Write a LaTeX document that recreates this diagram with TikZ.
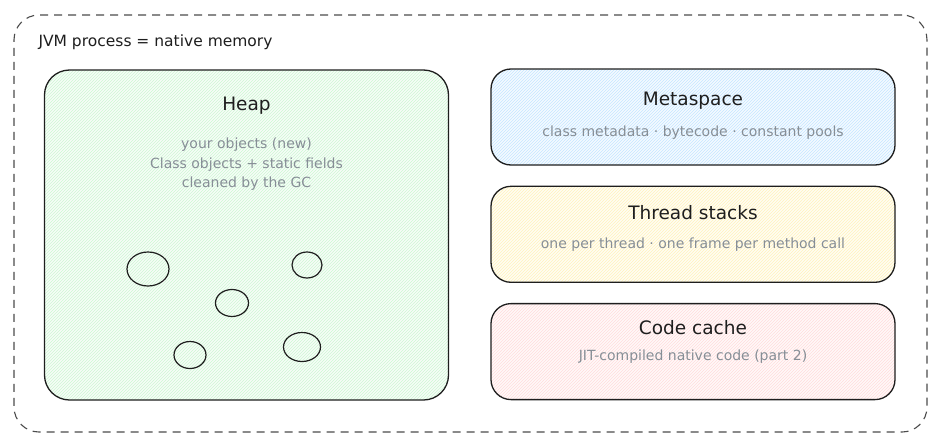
\documentclass[tikz,border=0pt]{standalone}
\usepackage{fontspec}
\setmainfont{DejaVu Sans}
\usetikzlibrary{positioning, patterns, shapes.geometric}
\definecolor{inkblack}{RGB}{30,30,30}
\definecolor{notegray}{RGB}{134,142,150}
\definecolor{heapgreen}{RGB}{178,242,187}
\definecolor{metablue}{RGB}{165,216,255}
\definecolor{stackyellow}{RGB}{255,236,153}
\definecolor{cachered}{RGB}{255,201,201}
\tikzset{
x=1pt, y=-1pt, % pixel-like coordinates, y grows downwards
node distance=20pt, % gap between the stacked regions
process/.style={draw=inkblack!80, line width=1.1pt, dash pattern=on 8pt off 6pt, rounded corners=25pt}, % the outer dashed frame
region/.style={draw=inkblack, line width=1.3pt, rounded corners=20pt, minimum width=404pt, minimum height=96pt}, % a memory area
hatched/.style={preaction={fill=#1!12}, pattern=north east lines, pattern color=#1!65}, % excalidraw-like hachure
boxtitle/.style={text=inkblack, font=\fontsize{18.5}{22}\selectfont}, % area name
boxnote/.style={text=notegray, font=\fontsize{14}{19.5}\selectfont, align=center}, % area description
obj/.style={ellipse, draw=inkblack, line width=1.2pt, inner sep=0pt}, % an object on the heap
}

\begin{document}
\begin{tikzpicture}
  \useasboundingbox (0,0) rectangle (940,447);
  \node[process, minimum width=913pt, minimum height=417pt] (jvm) at (470.5,223.5) {};
  \node[anchor=west, text=inkblack, font=\fontsize{15.5}{18}\selectfont] (jvmlabel) at (35,42) {JVM process = native memory};

  % heap on the left
  \node[region, hatched=heapgreen, rounded corners=25pt, minimum height=330pt] (heap) at (246.5,235) {};
  \node[boxtitle, below=24pt of heap.north] (heaptitle) {Heap};
  \node[boxnote, below=17pt of heaptitle] (heapnote) {your objects (new)\\Class objects + static fields\\cleaned by the GC};
  \node[obj, minimum width=42pt, minimum height=34pt] (obj1) at (148,269) {};
  \node[obj, minimum width=30pt, minimum height=26pt] (obj2) at (307,265) {};
  \node[obj, minimum width=33pt, minimum height=27pt] (obj3) at (232,303) {};
  \node[obj, minimum width=32pt, minimum height=27pt] (obj4) at (190,355) {};
  \node[obj, minimum width=37pt, minimum height=29pt] (obj5) at (302,347) {};

  % the native areas on the right
  \node[region, hatched=metablue] (meta) at (693,117) {};
  \node[region, hatched=stackyellow, below=of meta] (stacks) {};
  \node[region, hatched=cachered, below=of stacks] (cache) {};

  \node[boxtitle, below=20pt of meta.north] (metatitle) {Metaspace};
  \node[boxnote, below=10pt of metatitle] (metanote) {class metadata · bytecode · constant pools};
  \node[boxtitle, below=16pt of stacks.north] (stackstitle) {Thread stacks};
  \node[boxnote, below=11pt of stackstitle] (stacksnote) {one per thread · one frame per method call};
  \node[boxtitle, below=14pt of cache.north] (cachetitle) {Code cache};
  \node[boxnote, below=8pt of cachetitle] (cachenote) {JIT-compiled native code (part 2)};
\end{tikzpicture}
\end{document}
